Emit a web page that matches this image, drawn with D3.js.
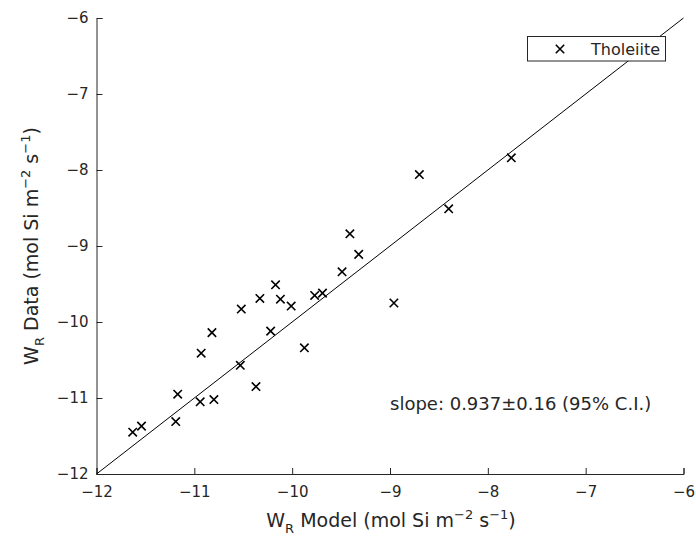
<!DOCTYPE html>
<html>
<head>
<meta charset="utf-8">
<script src="https://cdn.jsdelivr.net/npm/d3@7"></script>
<style>
body { margin: 0; background: #fff; }
text { font-family: "DejaVu Sans", sans-serif; fill: #262626; }
</style>
</head>
<body>
<script>
// model vs data, log10 weathering rates
var modelVals = [-11.63, -11.54, -11.17, -11.19, -10.94, -10.80, -10.37, -10.17, -10.33, -10.52,
                 -10.12, -10.01, -9.77, -9.69, -10.82, -10.22, -10.93, -9.875, -10.53, -8.70,
                 -9.41, -9.32, -9.49, -8.40, -8.96, -7.76];
var dataVals  = [-11.45, -11.37, -10.95, -11.31, -11.05, -11.02, -10.85, -9.51, -9.69, -9.83,
                 -9.70, -9.79, -9.65, -9.62, -10.14, -10.12, -10.41, -10.34, -10.57, -8.06,
                 -8.84, -9.11, -9.34, -8.51, -9.75, -7.84];
var ticks = [-12, -11, -10, -9, -8, -7, -6];
var fitLine = [[-12, -12], [-6, -6]];
var legendLabel = "Tholeiite";
var slopeText = "slope: 0.937\u00b10.16 (95% C.I.)";

var W = 696, H = 540;
var svg = d3.select("body").append("svg").attr("width", W).attr("height", H);

var x = d3.scaleLinear().domain([-12, -6]).range([96.5, 683.5]);
var y = d3.scaleLinear().domain([-12, -6]).range([474, 18]);

var fmt = function (d) { return d < 0 ? "\u2212" + Math.abs(d) : d; };

var xAxis = svg.append("g").attr("transform", "translate(0," + y(-12) + ")")
    .call(d3.axisBottom(x).tickValues(ticks).tickSize(-6).tickPadding(12).tickFormat(fmt));
var yAxis = svg.append("g").attr("transform", "translate(" + x(-12) + ",0)")
    .call(d3.axisLeft(y).tickValues(ticks).tickSize(-6).tickPadding(8).tickFormat(fmt));

[xAxis, yAxis].forEach(function (a) {
    a.select(".domain").attr("stroke", "#262626").attr("stroke-width", 1);
    a.selectAll(".tick line").attr("stroke", "#262626");
    a.selectAll("text").style("font-size", "15px").attr("fill", "#262626");
});

// 1:1 line
svg.append("path")
    .attr("d", d3.line().x(function (d) { return x(d[0]); }).y(function (d) { return y(d[1]); })(fitLine))
    .attr("stroke", "#000").attr("stroke-width", 1).attr("fill", "none");

function cross(g, cx, cy, r) {
    g.append("path")
        .attr("d", "M" + (cx - r) + "," + (cy - r) + "L" + (cx + r) + "," + (cy + r) +
                   "M" + (cx - r) + "," + (cy + r) + "L" + (cx + r) + "," + (cy - r))
        .attr("stroke", "#000").attr("stroke-width", 1.6).attr("fill", "none");
}

var pts = svg.append("g");
modelVals.forEach(function (m, i) {
    cross(pts, x(m), y(dataVals[i]), 4.2);
});

// legend
var lg = svg.append("g");
lg.append("rect").attr("x", 527.5).attr("y", 36.5).attr("width", 138).attr("height", 24.5)
    .attr("fill", "#fff").attr("stroke", "#262626").attr("stroke-width", 1);
cross(lg, 560, 49, 4.2);
lg.append("text").attr("x", 591).attr("y", 55).style("font-size", "16px").text(legendLabel);

svg.append("text").attr("x", 390).attr("y", 410).style("font-size", "18px").text(slopeText);

// axis labels
function label(t, main) {
    t.append("tspan").text("W");
    t.append("tspan").attr("dy", 6).style("font-size", "13px").text("R");
    t.append("tspan").attr("dy", -6).text(main);
    t.append("tspan").attr("dy", -8).style("font-size", "13px").text("\u22122");
    t.append("tspan").attr("dy", 8).text(" s");
    t.append("tspan").attr("dy", -8).style("font-size", "13px").text("\u22121");
    t.append("tspan").attr("dy", 8).text(")");
}
label(svg.append("text").attr("x", 391).attr("y", 527).attr("text-anchor", "middle").style("font-size", "19px"),
      " Model (mol Si m");
label(svg.append("text").attr("transform", "translate(38,246) rotate(-90)")
      .attr("text-anchor", "middle").style("font-size", "19px"), " Data (mol Si m");
</script>
</body>
</html>
